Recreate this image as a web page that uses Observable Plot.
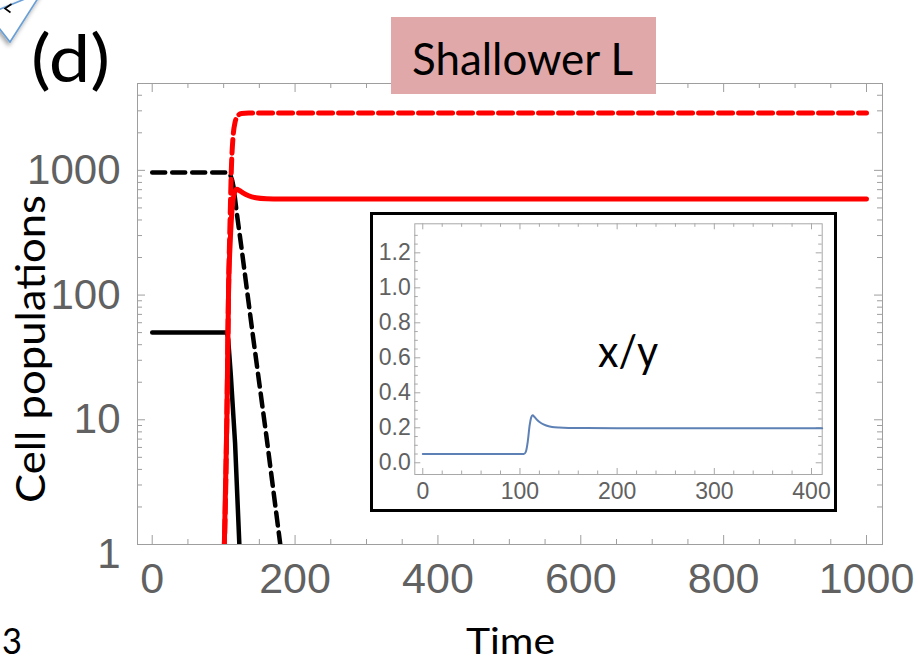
<!DOCTYPE html>
<html>
<head>
<meta charset="utf-8">
<script src="https://cdn.jsdelivr.net/npm/d3@7"></script>
<script src="https://cdn.jsdelivr.net/npm/@observablehq/plot@0.6"></script>
<style>
  html, body { margin: 0; padding: 0; background: #fff; }
  #fig { position: relative; width: 918px; height: 662px; overflow: hidden; font-family: Lato, sans-serif; }
  #main { position: absolute; left: 0; top: 0; }
  #inset { position: absolute; left: 370px; top: 212px; width: 461px; height: 294px; border: 3px solid #000; background: #fff; }
  #notes { position: absolute; left: 0; top: 0; pointer-events: none; }
</style>
</head>
<body>
<div id="fig">
  <div id="main"></div>
  <div id="inset"></div>
  <svg id="notes" width="918" height="662"></svg>
</div>
<script>
// Axis ticks
const timeTicks = [0, 200, 400, 600, 800, 1000];
const popTicks = [1, 10, 100, 1000];
const insetTimeTicks = [0, 100, 200, 300, 400];
const ratioTicks = [0, 0.2, 0.4, 0.6, 0.8, 1.0, 1.2];

// Cell populations over time: [time, count]
const xSolid = [[0, 50], [105, 50], [106.5, 43], [110, 23], [116, 6.5], [122, 1], [123, 0.8]];
const ySolid = [[0, 960], [106, 960], [109, 930], [112, 830], [114, 730], [118.5, 450], [125.5, 227], [140, 52], [160, 7.3], [179.3, 1], [181, 0.85]];
const xPrime = [[100.5, 0.85], [101, 1], [104.5, 10], [107, 120], [109, 250], [111, 420], [113, 570], [115.5, 670], [118.5, 705], [122, 690], [127, 660], [135, 625], [145, 603], [160, 592], [180, 589], [1000, 588]];
const yPrime = [[100.5, 0.85], [101, 1], [104.5, 10], [107, 120], [109, 400], [111, 1100], [113, 1800], [116, 2430], [120, 2750], [125, 2860], [135, 2880], [1000, 2880]];

// Ratio x/y over time: [time, ratio]
const ratio = [[0, 0.05], [104, 0.05], [106, 0.062], [108, 0.12], [110, 0.215], [111.5, 0.258], [113, 0.272], [115, 0.262], [118, 0.243], [122, 0.226], [127, 0.213], [133, 0.205], [140, 0.201], [150, 0.199], [200, 0.198], [411, 0.198]];

const labelGray = "#616161";
const frameGray = "#9e9e9e";
const tickFont = "'Liberation Sans', Arial, sans-serif";

// ---- main panel ----
const W = 918, H = 662;
const mL = 137, mR = 36, mT = 83, mB = 118;
const fW = W - mL - mR, fH = H - mT - mB;

const minorX = d3.range(0, 1001, 50).filter(t => t % 200 !== 0);
const minorY = [];
for (let e = 0; e <= 3; e++) for (let m = 2; m <= 9; m++) { const v = m * 10 ** e; if (v < 4970) minorY.push(v); }

const asRows = (pts) => pts.map(([t, v]) => ({t, v}));

const main = Plot.plot({
  width: W, height: H,
  marginLeft: mL, marginRight: mR, marginTop: mT, marginBottom: mB,
  x: {domain: [-20.6, 1022.4]},
  y: {type: "log", domain: [1, 4970]},
  style: {background: "transparent", overflow: "visible"},
  marks: [
    Plot.frame({stroke: frameGray}),
    Plot.tickX(timeTicks, {x: d => d, stroke: frameGray, insetTop: fH - 9}),
    Plot.tickX(minorX, {x: d => d, stroke: frameGray, insetTop: fH - 5}),
    Plot.tickX(timeTicks, {x: d => d, stroke: frameGray, insetBottom: fH - 9}),
    Plot.tickX(minorX, {x: d => d, stroke: frameGray, insetBottom: fH - 5}),
    Plot.tickY(popTicks, {y: d => d, stroke: frameGray, insetRight: fW - 8}),
    Plot.tickY(minorY, {y: d => d, stroke: frameGray, insetRight: fW - 5}),
    Plot.tickY(popTicks, {y: d => d, stroke: frameGray, insetLeft: fW - 8}),
    Plot.tickY(minorY, {y: d => d, stroke: frameGray, insetLeft: fW - 5}),
    Plot.axisX(timeTicks, {tickSize: 0, tickPadding: 18, fontSize: 43, fontFamily: tickFont, color: labelGray, label: null, tickFormat: d => String(d)}),
    Plot.axisY(popTicks.slice(1), {tickSize: 0, tickPadding: 17, fontSize: 42, fontFamily: tickFont, color: labelGray, label: null, tickFormat: d => String(d)}),
    Plot.axisY(popTicks.slice(0, 1), {tickSize: 0, tickPadding: 17, dy: 10, fontSize: 42, fontFamily: tickFont, color: labelGray, label: null, tickFormat: d => String(d)}),
    Plot.line(asRows(ySolid), {x: "t", y: "v", stroke: "#000", strokeWidth: 4.5, strokeDasharray: "13,7", clip: true}),
    Plot.line(asRows(xSolid), {x: "t", y: "v", stroke: "#000", strokeWidth: 4.5, clip: true}),
    Plot.line(asRows(yPrime), {x: "t", y: "v", stroke: "#ff0000", strokeWidth: 5, strokeDasharray: "14,6", clip: true, curve: "monotone-x"}),
    Plot.line(asRows(xPrime), {x: "t", y: "v", stroke: "#ff0000", strokeWidth: 5, clip: true, curve: "monotone-x"})
  ]
});
document.getElementById("main").append(main);

// ---- inset panel: x/y ----
const iW = 461, iH = 294;
const iL = 41.3, iR = 12.3, iT = 8.3, iB = 35;
const ifW = iW - iL - iR, ifH = iH - iT - iB;
const insetMinorX = d3.range(0, 411, 20).filter(t => t % 100 !== 0);
const insetMinorY = d3.range(0, 27).map(i => i * 0.05).filter(v => Math.round(v * 100) % 20 !== 0);
const insetGray = "#a8a8a8";

const inset = Plot.plot({
  width: iW, height: iH,
  marginLeft: iL, marginRight: iR, marginTop: iT, marginBottom: iB,
  x: {domain: [-8.2, 411]},
  y: {domain: [-0.067, 1.366]},
  style: {background: "#fff", overflow: "visible"},
  marks: [
    Plot.frame({stroke: insetGray}),
    Plot.tickX(insetTimeTicks, {x: d => d, stroke: insetGray, insetTop: ifH - 6}),
    Plot.tickX(insetMinorX, {x: d => d, stroke: insetGray, insetTop: ifH - 3.5}),
    Plot.tickX(insetTimeTicks, {x: d => d, stroke: insetGray, insetBottom: ifH - 6}),
    Plot.tickX(insetMinorX, {x: d => d, stroke: insetGray, insetBottom: ifH - 3.5}),
    Plot.tickY(ratioTicks, {y: d => d, stroke: insetGray, insetRight: ifW - 6}),
    Plot.tickY(insetMinorY, {y: d => d, stroke: insetGray, insetRight: ifW - 3.5}),
    Plot.tickY(ratioTicks, {y: d => d, stroke: insetGray, insetLeft: ifW - 6}),
    Plot.tickY(insetMinorY, {y: d => d, stroke: insetGray, insetLeft: ifW - 3.5}),
    Plot.axisX(insetTimeTicks, {tickSize: 0, tickPadding: 8, fontSize: 23, fontFamily: tickFont, color: labelGray, label: null, tickFormat: d => String(d)}),
    Plot.axisY(ratioTicks, {tickSize: 0, tickPadding: 4, fontSize: 23, fontFamily: tickFont, color: labelGray, label: null, tickFormat: d => d.toFixed(1)}),
    Plot.line(asRows(ratio), {x: "t", y: "v", stroke: "#5e81b5", strokeWidth: 2, curve: "monotone-x"})
  ]
});
document.getElementById("inset").append(inset);

// ---- annotations ----
const notes = d3.select("#notes");
const defs = notes.append("defs");
const shadow = defs.append("filter").attr("id", "shade").attr("x", "-50%").attr("y", "-50%").attr("width", "200%").attr("height", "200%");
shadow.append("feDropShadow").attr("dx", -1.5).attr("dy", 3).attr("stdDeviation", 2).attr("flood-color", "#000").attr("flood-opacity", 0.35);

// corner of a neighbouring callout
notes.append("path").attr("d", "M-12,14 L10,42 L42,-8 Z").attr("fill", "#fff").attr("stroke", "#6a9fd6").attr("stroke-width", 1.6).attr("filter", "url(#shade)");
notes.append("path").attr("d", "M11.5,4 L5,8.5 L10.5,12.5").attr("fill", "none").attr("stroke", "#000").attr("stroke-width", 1.6);

const txt = (s, x, y, size, len, extra = {}) => {
  const t = notes.append("text").attr("x", x).attr("y", y).attr("font-family", "Lato, sans-serif").attr("font-size", size).attr("fill", "#000").text(s);
  if (len) t.attr("textLength", len).attr("lengthAdjust", "spacingAndGlyphs");
  for (const k in extra) t.attr(k, extra[k]);
  return t;
};

txt("(d)", 31, 82, 66, 79);
notes.append("rect").attr("x", 391).attr("y", 17).attr("width", 265).attr("height", 77).attr("fill", "#e0a8a8");
txt("Shallower L", 412, 75, 44, 221);
txt("Cell populations", 0, 0, 41, 308, {transform: "translate(45,503) rotate(-90)"});
txt("Time", 466, 654, 36, 89);
txt("3", 2, 654, 36, 20);
txt("x/y", 598, 367, 45, 60);
</script>
</body>
</html>
